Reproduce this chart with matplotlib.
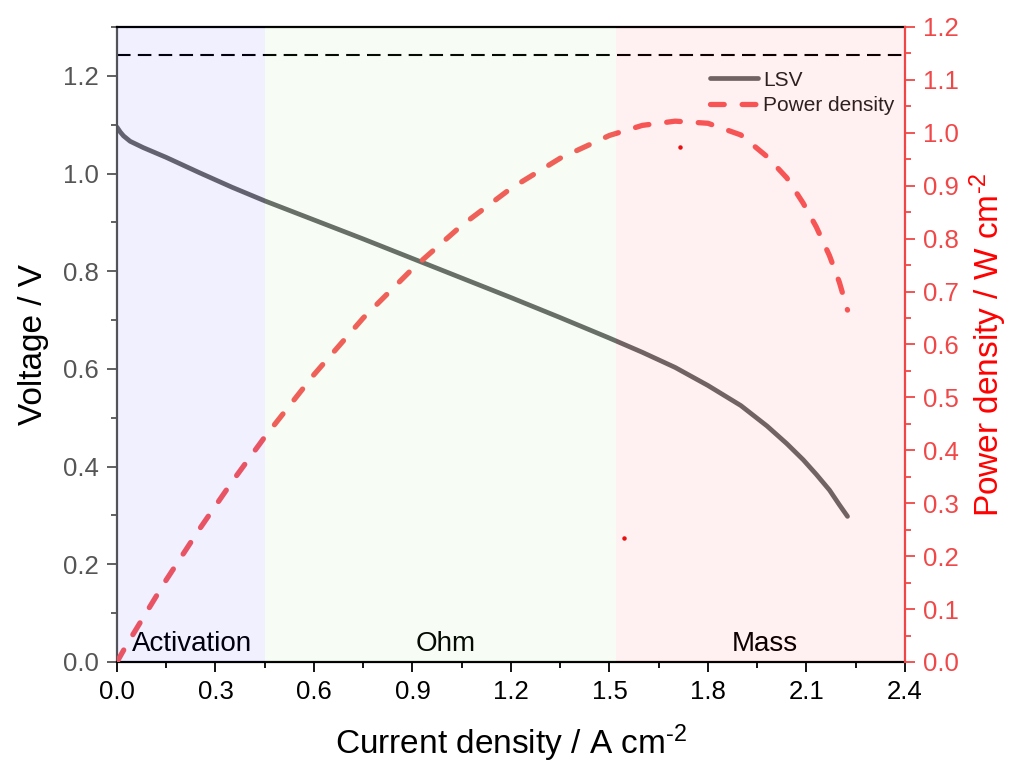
import matplotlib
matplotlib.use("Agg")
import matplotlib.pyplot as plt
from matplotlib.ticker import MultipleLocator, FormatStrFormatter
import matplotlib.transforms as mtransforms

plt.rcParams['font.family'] = ['Liberation Sans', 'DejaVu Sans']
plt.rcParams['mathtext.fontset'] = 'custom'
plt.rcParams['mathtext.rm'] = 'Liberation Sans'
plt.rcParams['mathtext.default'] = 'regular'

# ---- data ----
current = [0.0, 0.01, 0.02, 0.04, 0.08, 0.15, 0.25, 0.35, 0.45, 0.60, 0.75, 0.90, 1.05,
           1.20, 1.35, 1.50, 1.60, 1.70, 1.80, 1.90, 1.98, 2.04, 2.09, 2.13, 2.17, 2.20, 2.225]
voltage = [1.095, 1.085, 1.077, 1.066, 1.053, 1.033, 1.002, 0.972, 0.944, 0.905, 0.866, 0.826, 0.786,
           0.746, 0.705, 0.663, 0.634, 0.603, 0.566, 0.525, 0.483, 0.447, 0.414, 0.384, 0.352, 0.322, 0.298]
power = [0.0, 0.011, 0.022, 0.043, 0.084, 0.155, 0.250, 0.340, 0.425, 0.543, 0.650, 0.743, 0.825,
         0.895, 0.952, 0.995, 1.014, 1.022, 1.018, 0.996, 0.955, 0.915, 0.867, 0.822, 0.768, 0.718, 0.665]
stray_x = [1.715, 1.544]
stray_p = [0.973, 0.235]
ocv_line = 1.243
regions = [(0.0, 0.45, 'Activation'), (0.45, 1.52, 'Ohm'), (1.52, 2.4, 'Mass')]
region_label_x = [0.228, 1.0, 1.974]
region_colors = [(0.0, 0.0, 1.0), (0.40, 0.90, 0.24), (1.0, 0.0, 0.0)]
region_alpha = [0.06, 0.05, 0.055]

fig = plt.figure(figsize=(10.1, 7.66), dpi=100)
ax1 = fig.add_axes([0.1158, 0.1358, 0.7802, 0.8290])
ax2 = ax1.twinx()

ax1.set_xlim(0, 2.4)
ax1.set_ylim(0, 1.3)
ax2.set_ylim(0, 1.2)

lsv, = ax1.plot(current, voltage, color='#696969', lw=3.4, solid_capstyle='round',
                solid_joinstyle='round', zorder=2, label='LSV')
ax1.axhline(ocv_line, color='black', lw=1.5, dashes=(6.5, 3.5), zorder=2)

pw, = ax2.plot(current, power, color='#f75a5a', lw=3.8, zorder=2, label='Power density',
               dash_capstyle='round', dash_joinstyle='round')
pw.set_dashes((2.6, 3.4))
ax2.plot(stray_x, stray_p, ls='none', marker='o', ms=2.2, color='#e81010', zorder=2)

# coloured regions drawn on top with low alpha (tints the curves like the reference)
trans = mtransforms.blended_transform_factory(ax1.transData, ax1.transAxes)
for (x0, x1, name), c, a, lx in zip(regions, region_colors, region_alpha, region_label_x):
    ax2.axvspan(x0, x1, color=c, alpha=a, lw=0, zorder=3)
    ax1.text(lx, 0.008, name, transform=trans, ha='center', va='bottom',
             fontsize=20, color='black', zorder=4)

# legend
leg = ax1.legend(handles=[lsv, pw], loc='upper right', bbox_to_anchor=(0.987, 0.931),
                 frameon=False, fontsize=15, handlelength=2.3, handletextpad=0.25,
                 borderpad=0, borderaxespad=0, labelspacing=0.3)
for t in leg.get_texts():
    t.set_color('#222222')

# ticks
ax1.xaxis.set_major_locator(MultipleLocator(0.3))
ax1.xaxis.set_minor_locator(MultipleLocator(0.15))
ax1.yaxis.set_major_locator(MultipleLocator(0.2))
ax1.yaxis.set_minor_locator(MultipleLocator(0.1))
ax2.yaxis.set_major_locator(MultipleLocator(0.1))
ax2.yaxis.set_minor_locator(MultipleLocator(0.05))

ax1.xaxis.set_major_formatter(FormatStrFormatter('%.1f'))
ax1.yaxis.set_major_formatter(FormatStrFormatter('%.1f'))
ax2.yaxis.set_major_formatter(FormatStrFormatter('%.1f'))

ax1.tick_params(axis='x', which='major', direction='out', length=7, width=1.3,
                labelsize=18.5, colors='black', pad=6)
ax1.tick_params(axis='x', which='minor', direction='out', length=4, width=1.3, colors='black')
ax1.tick_params(axis='y', which='major', direction='out', length=7, width=1.3,
                labelsize=18.5, colors='#555555', pad=6)
ax1.tick_params(axis='y', which='minor', direction='out', length=4, width=1.3, colors='#555555')
ax2.tick_params(axis='y', which='major', direction='out', length=7, width=1.3,
                labelsize=18.5, colors='#f04848', pad=6)
ax2.tick_params(axis='y', which='minor', direction='out', length=4, width=1.3, colors='#f04848')

ax1.spines['left'].set_color('#555555')
ax1.spines['bottom'].set_color('black')
ax1.spines['top'].set_color('black')
for s in ax1.spines.values():
    s.set_linewidth(1.6)
ax1.spines['right'].set_visible(False)
ax2.spines['left'].set_visible(False)
ax2.spines['top'].set_visible(False)
ax2.spines['bottom'].set_visible(False)
ax2.spines['right'].set_color('#f04848')
ax2.spines['right'].set_linewidth(1.6)

ax1.set_xlabel('Current density / A cm$^{\\text{-2}}$', fontsize=24, labelpad=13)
ax1.set_ylabel('Voltage / V', fontsize=24, labelpad=10)
ax2.set_ylabel('Power density / W cm$^{\\text{-2}}$', fontsize=24, color='#ff0000', labelpad=6)

fig.savefig('out.png', dpi=100)
